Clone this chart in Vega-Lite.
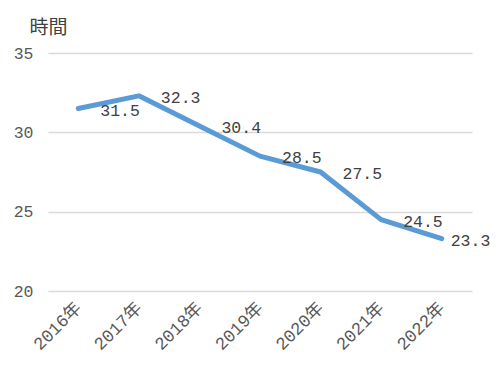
{
  "$schema": "https://vega.github.io/schema/vega-lite/v6.json",
  "width": 424,
  "height": 238,
  "autosize": {"type": "none"},
  "padding": {"left": 48, "top": 53, "right": 27, "bottom": 79},
  "background": "white",
  "config": {"view": {"stroke": null}},
  "data": {
    "values": [
      {"year": "2016年", "hours": 31.5},
      {"year": "2017年", "hours": 32.3},
      {"year": "2018年", "hours": 30.4},
      {"year": "2019年", "hours": 28.5},
      {"year": "2020年", "hours": 27.5},
      {"year": "2021年", "hours": 24.5},
      {"year": "2022年", "hours": 23.3}
    ]
  },
  "encoding": {
    "x": {
      "field": "year",
      "type": "ordinal",
      "sort": null,
      "scale": {"type": "point", "padding": 0.5},
      "axis": {
        "title": null,
        "labelAngle": -45,
        "labelAlign": "right",
        "labelBaseline": "middle",
        "ticks": false,
        "domain": false,
        "grid": false,
        "labelFont": "Liberation Mono, Noto Sans CJK JP",
        "labelFontSize": 17.5,
        "labelColor": "#595959",
        "labelPadding": 14
      }
    },
    "y": {
      "field": "hours",
      "type": "quantitative",
      "scale": {"domain": [20, 35], "nice": false, "zero": false},
      "axis": {
        "values": [20, 25, 30, 35],
        "title": "時間",
        "titleAngle": 0,
        "titleX": -19,
        "titleY": -20,
        "titleAlign": "left",
        "titleBaseline": "alphabetic",
        "titleFont": "Noto Sans CJK JP",
        "titleFontSize": 19,
        "titleFontWeight": "normal",
        "titleColor": "#404040",
        "domain": false,
        "ticks": false,
        "grid": true,
        "gridColor": "#D9D9D9",
        "gridWidth": 1.5,
        "labelFont": "Liberation Mono",
        "labelFontSize": 16.5,
        "labelColor": "#595959",
        "labelPadding": 15
      }
    }
  },
  "layer": [
    {
      "mark": {"type": "line", "color": "#5B9BD5", "strokeWidth": 5, "strokeCap": "round", "strokeJoin": "round"}
    },
    {
      "transform": [{"filter": "datum.year != '2022年'"}],
      "mark": {"type": "text", "align": "left", "baseline": "middle", "dx": 22, "dy": 2, "font": "Liberation Mono", "fontSize": 16.5, "color": "#404040"},
      "encoding": {"text": {"field": "hours", "type": "quantitative", "format": ".1f"}}
    },
    {
      "transform": [{"filter": "datum.year == '2022年'"}],
      "mark": {"type": "text", "align": "left", "baseline": "middle", "dx": 9, "dy": 2, "font": "Liberation Mono", "fontSize": 16.5, "color": "#404040"},
      "encoding": {"text": {"field": "hours", "type": "quantitative", "format": ".1f"}}
    }
  ]
}
